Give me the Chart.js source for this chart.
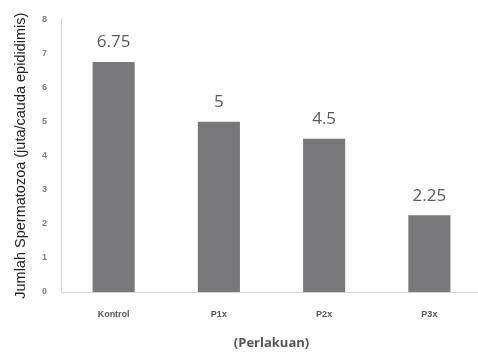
<!DOCTYPE html>
<html lang="id">
<head>
<meta charset="UTF-8">
<title>Jumlah Spermatozoa</title>
<script src="https://cdn.jsdelivr.net/npm/chart.js"></script>
<style>
  html, body { margin: 0; padding: 0; background: #fff; overflow: hidden; }
  .wrap { width: 482px; height: 355px; position: relative; }
</style>
</head>
<body>
<div class="wrap"><canvas id="chart"></canvas></div>
<script>
  // data
  var kategori = ["Kontrol", "P1x", "P2x", "P3x"];
  var jumlah = [6.75, 5, 4.5, 2.25];
  var labelNilai = ["6.75", "5", "4.5", "2.25"];

  // write the value above each bar
  var nilaiPlugin = {
    id: "nilai",
    afterDatasetsDraw: function (chart) {
      var ctx = chart.ctx;
      var meta = chart.getDatasetMeta(0);
      ctx.save();
      ctx.font = "17px 'Open Sans', sans-serif";
      ctx.fillStyle = "#5a5a5a";
      ctx.textAlign = "center";
      ctx.textBaseline = "bottom";
      meta.data.forEach(function (bar, i) {
        ctx.fillText(labelNilai[i], bar.x, bar.y - 11);
      });
      ctx.restore();
    }
  };

  new Chart(document.getElementById("chart"), {
    type: "bar",
    data: {
      labels: kategori,
      datasets: [{
        data: jumlah,
        backgroundColor: "#78787a",
        barPercentage: 0.4,
        categoryPercentage: 1
      }]
    },
    options: {
      responsive: true,
      maintainAspectRatio: false,
      animation: false,
      layout: { padding: { top: 13, left: 12, right: 0, bottom: 0 } },
      plugins: { legend: { display: false }, tooltip: { enabled: false } },
      scales: {
        y: {
          min: 0,
          max: 8,
          ticks: {
            stepSize: 1,
            padding: 14,
            color: "#808080",
            font: { family: "'Liberation Sans', sans-serif", size: 9, weight: "bold" }
          },
          grid: { display: false, drawTicks: false },
          border: { display: true, color: "#d4d4d4", width: 1 },
          title: {
            display: true,
            text: "Jumlah Spermatozoa (juta/cauda epididimis)",
            color: "#222",
            font: { family: "'Liberation Sans', sans-serif", size: 14.5 },
            padding: 0
          },
          afterFit: function (s) { s.width = 49; }
        },
        x: {
          ticks: {
            padding: 17,
            color: "#555",
            font: { family: "'Liberation Sans', sans-serif", size: 9, weight: "bold" }
          },
          grid: { display: false, drawTicks: false },
          border: { display: true, color: "#d4d4d4", width: 1 },
          title: {
            display: true,
            text: "(Perlakuan)",
            color: "#555",
            font: { family: "'Open Sans', sans-serif", size: 13, weight: "bold" },
            padding: { top: 10 }
          },
          afterFit: function (s) { s.height = 63; }
        }
      }
    },
    plugins: [nilaiPlugin]
  });
</script>
</body>
</html>
